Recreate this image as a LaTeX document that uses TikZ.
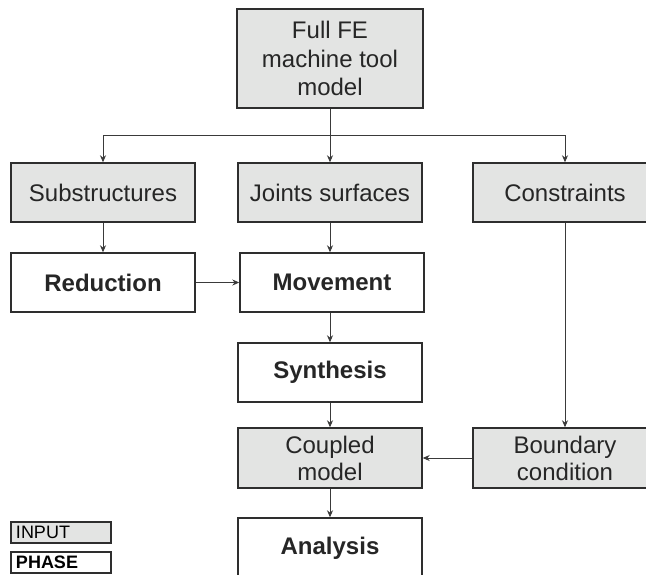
\documentclass[tikz,border=0pt]{standalone}
\usepackage{fontspec}
\setmainfont{Liberation Sans}
\usetikzlibrary{arrows.meta}
\definecolor{boxfill}{HTML}{E3E4E3}
\definecolor{boxline}{HTML}{2E2E2E}
\definecolor{wire}{HTML}{3A3A3A}
\begin{document}
\begin{tikzpicture}[x=1pt, y=-1pt,
  box/.style={draw=boxline, line width=1.4pt, minimum width=184pt, minimum height=59pt, inner sep=0pt, align=center, text=black!85, font=\fontsize{24}{27}\selectfont},
  inbox/.style={box, fill=boxfill},
  phasebox/.style={box, fill=white, font=\fontsize{24}{27}\selectfont\bfseries},
  legend/.style={draw=boxline, line width=1.2pt, minimum width=100pt, minimum height=21pt, inner sep=0pt, text width=90pt, align=left, font=\fontsize{18}{20}\selectfont},
  conn/.style={draw=wire, line width=0.9pt},
  arr/.style={conn, -{Stealth[length=7pt,width=6pt]}}]
\clip (0,0) rectangle (646,574);
\node[inbox, line width=2.6pt, minimum width=186pt, minimum height=99pt, font=\fontsize{24}{28.5}\selectfont] (model) at (330,58.5){Full FE\\machine tool\\model};
\node[inbox] (sub) at (103,192.5){Substructures};
\node[inbox] (joint) at (330,192.5){Joints surfaces};
\node[inbox] (cons) at (565,192.5){Constraints};
\node[phasebox] (red) at (103,282.5){Reduction};
\node[phasebox] (mov) at (332,282.5){Movement};
\node[phasebox] (syn) at (330,372.5){Synthesis};
\node[inbox, minimum height=60pt] (coup) at (330,458){Coupled\\model};
\node[inbox, minimum height=60pt] (bound) at (565,458){Boundary\\condition};
\node[phasebox, minimum height=60pt] (ana) at (330,548){Analysis};
\node[legend, fill=boxfill] (inp) at (61,532.5){INPUT};
\node[legend, fill=white, font=\fontsize{18}{20}\selectfont\bfseries] (pha) at (61,562.5){PHASE};
\coordinate (split) at (330,135);
\draw[conn](model) -- (split);
\draw[arr](split) -| (sub.north);
\draw[arr](split) -- (joint);
\draw[arr](split) -| (cons.north);
\draw[arr](sub) -- (red);
\draw[arr](joint.south) -- (joint.south |- mov.north);
\draw[arr](red) -- (mov);
\draw[arr](mov.south -| syn) -- (syn);
\draw[arr](syn) -- (coup);
\draw[arr](cons) -- (bound);
\draw[arr](bound) -- (coup);
\draw[arr](coup) -- (ana);
\end{tikzpicture}
\end{document}
